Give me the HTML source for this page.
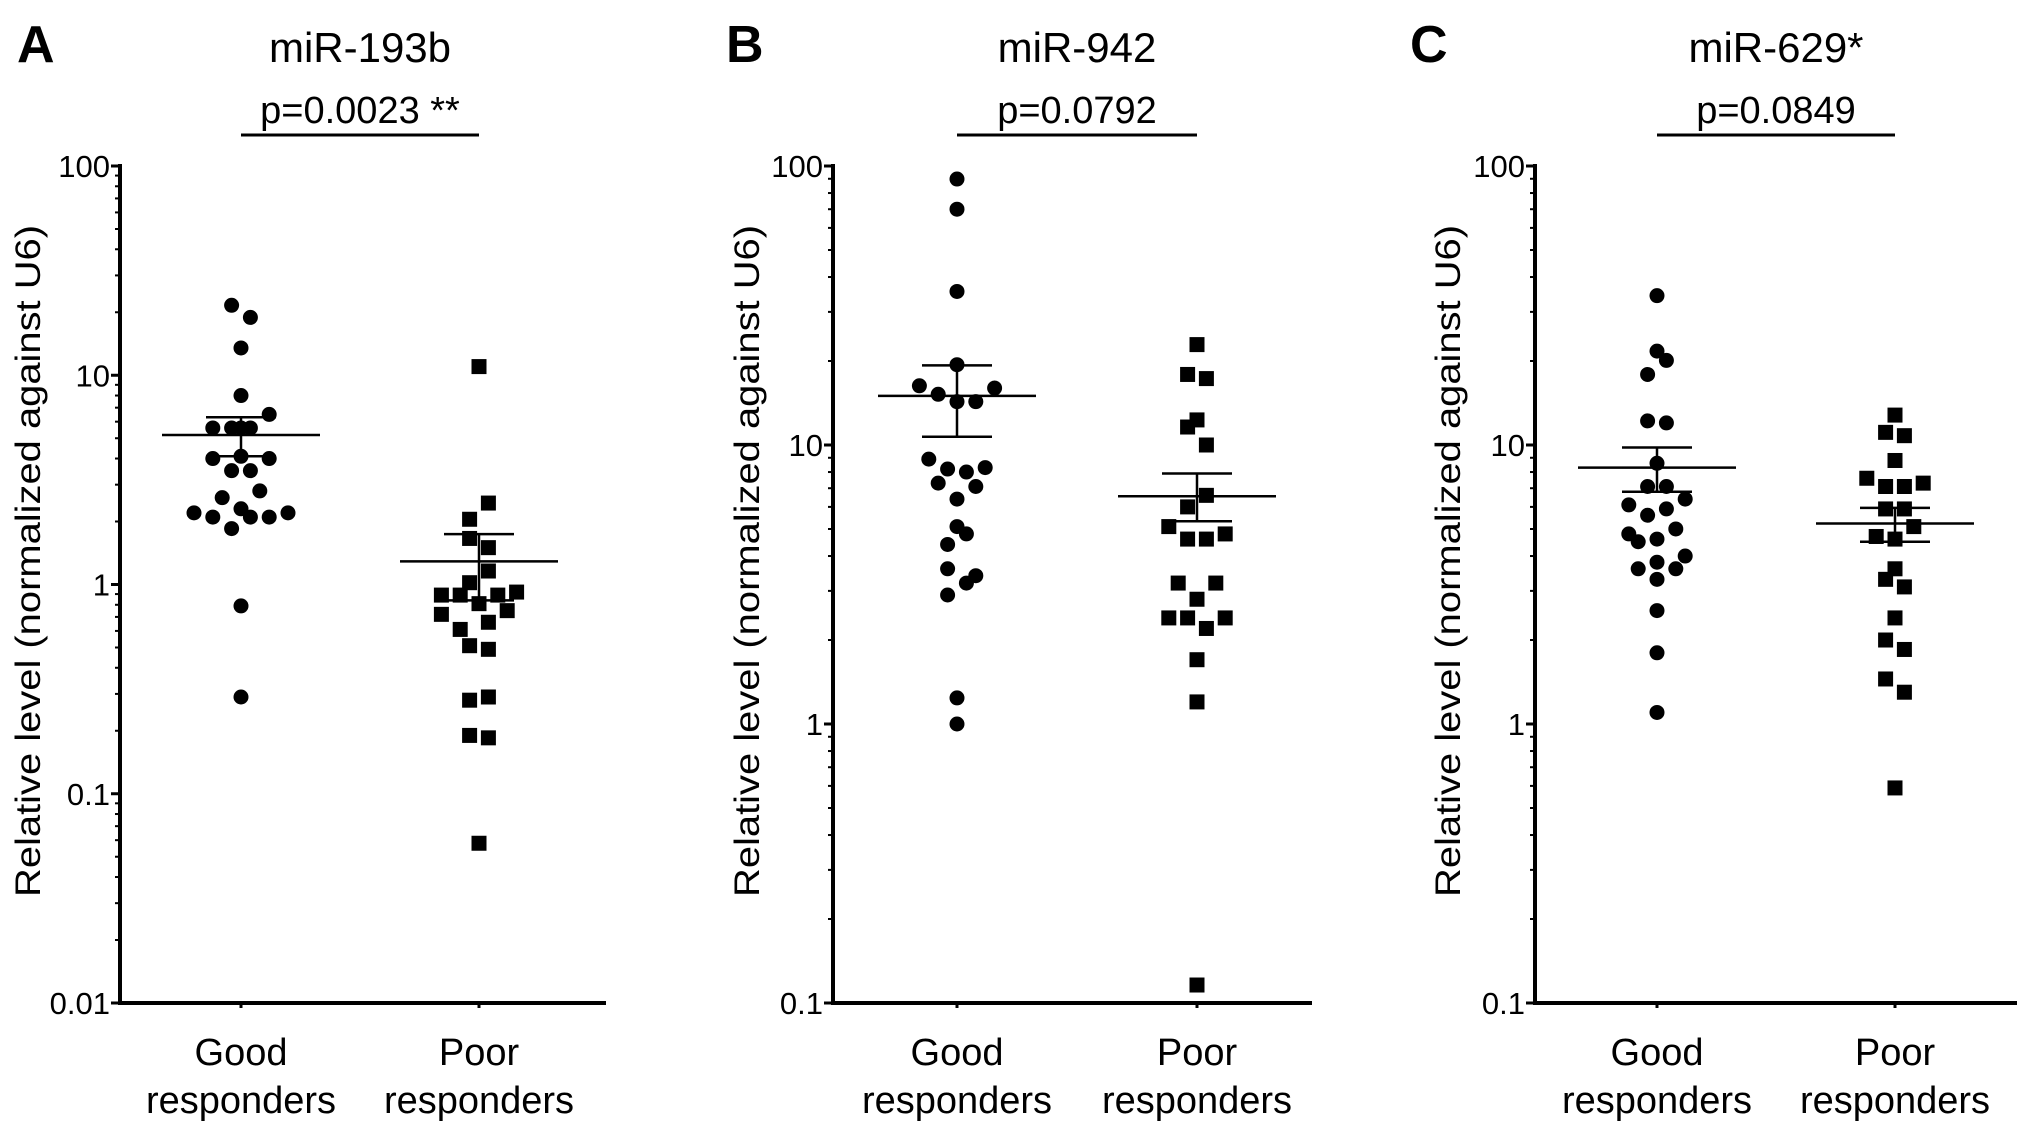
<!DOCTYPE html>
<html><head><meta charset="utf-8"><style>
body{margin:0;background:#fff}
svg{display:block;font-family:"Liberation Sans",Arial,sans-serif}
</style></head><body>
<svg id="fig" width="2031" height="1134" viewBox="0 0 2031 1134"></svg>
<script>
const catLabels=["Good","Poor"];
const aGood=[21.6,18.9,13.5,8,6.5,5.6,5.6,5.6,5.6,4.0,4.1,4.0,3.5,3.5,2.8,2.6,2.3,2.2,2.1,2.1,2.1,2.2,1.85,0.79,0.29];
const aGoodOff=[-1,1,0,0,3,-3,-1,0,1,-3,0,3,-1,1,2,-2,0,-5,-3,1,3,5,-1,0,0];
const aPoor=[11,2.45,2.05,1.66,1.5,1.16,1.02,0.89,0.89,0.81,0.89,0.92,0.75,0.72,0.61,0.66,0.51,0.49,0.28,0.29,0.19,0.185,0.058];
const aPoorOff=[0,1,-1,-1,1,1,-1,-4,-2,0,2,4,3,-4,-2,1,-1,1,-1,1,-1,1,0];
const aStats=[[5.18,6.3,4.1],[1.29,1.74,0.84]];
const bGood=[89.8,70,35.5,19.4,16.3,16.0,15.2,14.3,14.3,8.9,8.2,8.0,8.3,7.3,7.1,6.4,5.1,4.8,4.4,3.6,3.4,3.2,2.9,1.24,1.0];
const bGoodOff=[0,0,0,0,-4,4,-2,0,2,-3,-1,1,3,-2,2,0,0,1,-1,-1,2,1,-1,0,0];
const bPoor=[22.9,17.9,17.3,11.6,12.3,10,6.6,6.0,5.1,4.6,4.6,4.8,3.2,3.2,2.8,2.4,2.4,2.2,2.4,1.7,1.2,0.116];
const bPoorOff=[0,-1,1,-1,0,1,1,-1,-3,-1,1,3,-2,2,0,-3,-1,1,3,0,0,0];
const bStats=[[15.0,19.3,10.7],[6.55,7.9,5.33]];
const cGood=[34.3,21.7,20.1,17.9,12.2,12.0,8.6,7.1,7.1,6.1,5.6,5.9,6.4,4.8,4.5,4.6,5.0,3.6,3.8,3.6,4.0,3.3,2.55,1.8,1.1];
const cGoodOff=[0,0,1,-1,-1,1,0,-1,1,-3,-1,1,3,-3,-2,0,2,-2,0,2,3,0,0,0,0];
const cPoor=[12.8,11.1,10.8,8.8,7.6,7.1,7.1,7.3,5.9,5.9,5.1,4.7,4.6,3.6,3.3,3.1,2.4,2.0,1.85,1.45,1.3,0.59];
const cPoorOff=[0,-1,1,0,-3,-1,1,3,-1,1,2,-2,0,0,-1,1,0,-1,1,-1,1,0];
const cStats=[[8.3,9.8,6.8],[5.23,5.95,4.5]];

const NS="http://www.w3.org/2000/svg";
const svg=document.getElementById('fig');
function mk(tag,attrs,parent){const e=document.createElementNS(NS,tag);for(const k in attrs)e.setAttribute(k,attrs[k]);(parent||svg).appendChild(e);return e;}

function panel(cfg){
  const g=mk('g',{});
  
  
  const x0=cfg.ax,x1=cfg.axEnd,yT=166,yB=1003;
  const lmin=Math.log10(cfg.min),lmax=2;
  const Y=v=>yB-(Math.log10(v)-lmin)/(lmax-lmin)*(yB-yT);
  const U=9.4;
  const t=mk('text',{x:cfg.letterX,y:62,'font-size':52,'font-weight':'bold'},g);t.textContent=cfg.letter;
  
  
  const ti=mk('text',{x:(cfg.gx+cfg.px)/2,y:62,'font-size':42,'text-anchor':'middle'},g);ti.textContent=cfg.title;
  
  
  const pt=mk('text',{x:(cfg.gx+cfg.px)/2,y:123,'font-size':38,'text-anchor':'middle'},g);pt.textContent=cfg.p;
  
  
  const pb=mk('line',{x1:cfg.gx,x2:cfg.px,y1:135,y2:135,stroke:'#000','stroke-width':3},g);
  
  
  const ya=mk('line',{x1:x0,x2:x0,y1:yT-2,y2:yB+2,stroke:'#000','stroke-width':4},g);
  
  
  const xa=mk('line',{x1:x0-2,x2:x1,y1:yB,y2:yB,stroke:'#000','stroke-width':4},g);
  
  
  for(let d=lmin;d<=lmax;d++){
    const v=Math.pow(10,d),y=Y(v);
    mk('line',{x1:x0-9,x2:x0,y1:y,y2:y,stroke:'#000','stroke-width':3},g);
    const tl=mk('text',{x:x0-10,y:y+11,'font-size':31,'text-anchor':'end'},g);
    tl.textContent=(v>=1?String(v):String(+v.toFixed(3)));
    
    
    if(d<lmax)for(let m=2;m<10;m++){const ym=Y(m*v);mk('line',{x1:x0-5,x2:x0,y1:ym,y2:ym,stroke:'#000','stroke-width':2},g);}
  }
  const yl=mk('text',{transform:`translate(${cfg.ylx},561) rotate(-90)`,'font-size':35,'text-anchor':'middle',textLength:672,lengthAdjust:'spacingAndGlyphs'},g);
  yl.textContent='Relative level (normalized against U6)';
  
  
  [cfg.gx,cfg.px].forEach((cx,i)=>{
    mk('line',{x1:cx,x2:cx,y1:yB,y2:yB+5,stroke:'#000','stroke-width':3},g);
    const c1=mk('text',{x:cx,y:1065,'font-size':38,'text-anchor':'middle'},g);c1.textContent=catLabels[i];
    
    
    const c2=mk('text',{x:cx,y:1113,'font-size':38,'text-anchor':'middle'},g);c2.textContent='responders';
    
    
  });
  cfg.good.forEach((v,i)=>{
    const c=mk('circle',{cx:cfg.gx+cfg.goodOff[i]*U,cy:Y(v),r:7.5,fill:'#000'},g);
    
    
  });
  cfg.poor.forEach((v,i)=>{
    const r=mk('rect',{x:cfg.px+cfg.poorOff[i]*U-7.5,y:Y(v)-7.5,width:15,height:15,fill:'#000'},g);
    
    
  });
  [cfg.gx,cfg.px].forEach((cx,i)=>{
    const s=cfg.stats[i];
    const ml=mk('line',{x1:cx-79,x2:cx+79,y1:Y(s[0]),y2:Y(s[0]),stroke:'#000','stroke-width':2.5},g);
    
    
    mk('line',{x1:cx,x2:cx,y1:Y(s[1]),y2:Y(s[2]),stroke:'#000','stroke-width':2.5},g);
    [s[1],s[2]].forEach(e=>{const el=mk('line',{x1:cx-35,x2:cx+35,y1:Y(e),y2:Y(e),stroke:'#000','stroke-width':2.5},g);
      
      });
  });
}
panel({id:'a',letter:'A',title:'miR-193b',p:'p=0.0023 **',letterX:17,ax:120,axEnd:606,gx:241,px:479,min:0.01,ylx:40,good:aGood,goodOff:aGoodOff,poor:aPoor,poorOff:aPoorOff,stats:aStats});
panel({id:'b',letter:'B',title:'miR-942',p:'p=0.0792',letterX:726,ax:833,axEnd:1312,gx:957,px:1197,min:0.1,ylx:759,good:bGood,goodOff:bGoodOff,poor:bPoor,poorOff:bPoorOff,stats:bStats});
panel({id:'c',letter:'C',title:'miR-629*',p:'p=0.0849',letterX:1410,ax:1535,axEnd:2017,gx:1657,px:1895,min:0.1,ylx:1460,good:cGood,goodOff:cGoodOff,poor:cPoor,poorOff:cPoorOff,stats:cStats});
</script>
</body></html>
